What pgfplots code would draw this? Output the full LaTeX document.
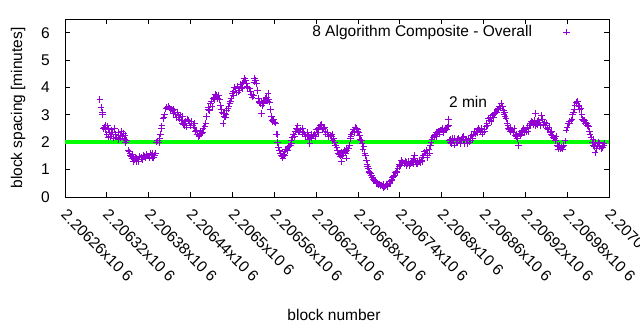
\documentclass[border=0pt]{standalone}
\usepackage{fontspec}
\setmainfont{Liberation Sans}
\usepackage{pgfplots}
\usepackage{pgfplotstable}
\pgfplotsset{compat=1.18}
\definecolor{gpviolet}{HTML}{9400D3}
\definecolor{gpgreen}{HTML}{00FF00}
% x = block number - 2206000
\pgfplotstableread{
x y
310.1 3.55
311.6 3.26
313.4 3.08
313.4 3.00
315.5 2.50
316 2.55
317.3 2.62
318 2.45
320 2.30
321 2.60
322.0 2.19
323 2.50
324.4 2.37
325 2.20
326 2.45
327 2.30
328.7 2.37
330 2.15
331 2.50
333 2.30
334.0 2.19
336 2.35
337 2.10
338.8 2.25
340 2.15
341 2.40
342 2.20
343.5 2.31
345 2.10
346 2.25
347 2.00
348.4 2.07
350.6 1.71
352 1.65
353.1 1.59
354 1.50
355.5 1.47
356 1.40
357 1.55
358 1.30
360.2 1.35
361 1.45
362 1.28
363 1.40
365.0 1.37
366 1.30
367 1.48
369.8 1.44
371 1.38
372 1.52
374.6 1.47
376 1.42
377 1.55
379.3 1.50
381 1.45
382 1.60
384.2 1.53
385 1.42
386 1.58
387 1.45
388.9 1.53
390 1.60
391.3 2.01
393 2.05
395 2.00
396.0 2.13
397 2.30
398.5 2.50
399 2.60
400.8 2.86
401.8 2.90
403 3.00
404.6 3.22
406 3.28
407.9 3.31
409 3.30
410 3.25
411 3.18
412.8 3.22
414 3.15
415 3.05
416 3.20
417.5 3.10
419 3.00
420 2.90
421 3.10
422.2 2.98
424 2.85
425 3.00
427.1 2.80
428 2.70
429 2.95
430 2.65
431.8 2.62
433 2.75
434 2.55
435 2.85
436.6 2.80
438 2.70
440 2.60
441 2.75
443.7 2.62
445 2.55
446 2.70
447 2.40
448.6 2.44
450 2.30
451.9 2.22
453 2.25
454 2.40
455.8 2.31
457 2.35
458 2.50
460.5 2.56
462 2.70
463 2.95
465.2 3.28
466 3.20
467.6 3.16
469 3.40
470 3.50
471 3.30
472.4 3.59
474 3.65
475 3.55
476 3.75
477.2 3.71
479 3.60
480 3.70
482.0 3.55
483 3.35
484 3.20
485 3.10
486.7 3.04
486.7 2.68
488 2.95
489 3.05
490.1 2.92
491 3.00
492 3.15
493.8 3.22
495 3.30
496.3 3.41
497 3.50
498 3.60
499.6 3.77
501 3.85
502 3.70
503.4 4.01
505 3.95
506 3.80
507 4.05
508.2 3.83
510 3.90
511 4.10
513.0 4.01
514 3.95
515 4.15
516 4.20
517.8 4.32
519 4.25
520.2 4.13
521 4.05
522 4.00
524.9 3.95
526 3.85
527 3.75
528.2 3.65
530 3.70
531 4.20
532.1 4.32
533 4.25
534.5 4.13
536 3.90
537 3.60
538 3.50
539.2 3.47
540 3.40
541 3.50
541.7 3.04
542.5 3.35
544 3.45
545 3.40
546.4 3.53
548 3.60
549 3.65
550 3.50
551.1 3.77
552 3.55
553.6 3.47
555 3.20
556 2.95
557.4 2.80
558 2.75
559 2.85
560.7 2.74
562 2.70
563 2.30
564.0 2.29
565 2.00
566 1.80
567.9 1.71
569 1.60
570 1.50
571.7 1.47
572.5 1.42
573 1.55
574 1.65
575 1.50
576.5 1.73
578 1.75
579 1.70
580 1.80
581.2 1.85
583 1.90
584 2.05
585 1.95
586.1 2.19
588 2.30
589 2.20
590 2.40
591.8 2.50
593 2.45
594 2.60
595 2.40
596.5 2.37
598 2.45
600 2.30
601 2.50
602.2 2.37
604 2.30
605 2.20
607.0 2.25
608 2.35
609 2.20
610 2.10
611 1.96
611.8 2.19
613 2.30
614 2.15
616.6 2.25
618 2.30
619 2.20
620 2.45
621.3 2.37
623 2.50
624 2.35
625 2.55
626.2 2.62
628 2.65
629 2.45
630.9 2.50
632 2.55
633 2.40
634 2.30
635.6 2.37
637 2.35
638 2.20
640.5 2.25
642 2.20
643 2.30
644 2.05
645.2 2.13
647 2.00
648 1.90
649.9 1.81
651 1.70
652 1.60
653 1.55
654.8 1.49
656 1.55
656.2 1.28
657 1.65
658 1.50
659.5 1.61
661 1.70
662 1.60
663 1.75
664 1.42
664.3 1.71
666.7 1.77
668 1.90
669.6 2.13
670 2.20
671 2.30
672.8 2.37
674 2.45
675 2.35
676 2.55
677.7 2.50
679 2.45
680 2.40
681.0 2.37
682 2.25
683 2.10
684.8 2.07
686 1.95
687 1.75
688.6 1.83
690 1.60
691 1.50
692.0 1.35
693 1.20
694 1.10
695.3 1.04
696 0.95
697 0.90
698 0.85
699.2 0.80
700 0.72
701 0.70
702 0.65
703.9 0.59
705 0.58
706 0.55
707 0.50
708.7 0.50
710 0.45
711 0.48
712 0.42
713.5 0.44
715 0.40
716 0.45
717 0.35
718.2 0.37
720 0.40
721 0.45
722 0.38
723.0 0.44
725 0.50
726 0.55
727.8 0.62
729 0.65
730 0.70
731 0.75
732.6 0.80
734 0.88
735 0.95
736 0.90
737.3 1.04
739 1.10
740 1.20
741 1.15
742.2 1.35
743 1.30
744 1.25
746.9 1.23
748 1.30
749 1.15
750 1.25
751.6 1.20
753 1.30
754 1.15
755 1.22
756.5 1.28
758 1.30
759 1.20
760 1.40
761 1.53
761.2 1.35
763 1.28
764 1.20
765 1.30
766.0 1.23
768 1.35
769 1.25
770.8 1.35
772 1.30
773 1.45
774 1.50
775.5 1.65
777 1.60
778 1.70
779 1.45
780.3 1.53
782 1.75
783 1.60
784.1 1.89
785 2.00
786 2.10
787.4 2.19
789.8 2.25
791 2.30
792 2.20
793 2.35
794.6 2.37
796 2.40
797 2.30
798 2.45
799.4 2.44
801 2.50
802 2.40
803 2.35
804.2 2.44
806 2.50
807 2.45
808.9 2.56
809.5 2.84
810 2.60
811.3 2.07
812 2.00
813 2.10
814 1.95
816.1 2.13
817 2.05
818 2.15
819 1.90
820.9 2.01
822 2.10
823 2.00
824 2.15
825.6 2.07
827 1.95
828 2.10
830.4 2.19
831 2.05
832 2.20
833 1.95
835.2 2.07
836 2.10
837 1.95
838 2.15
840.0 2.01
841 2.05
842 2.15
843 2.25
844.7 2.13
846 2.30
847 2.40
848 2.30
849.6 2.37
851 2.45
852 2.35
853 2.50
854.3 2.44
856 2.40
857 2.50
858 2.30
859.0 2.37
861 2.45
862 2.40
863.9 2.56
865 2.70
866 2.60
867.6 2.86
869 2.80
870 2.90
871 2.75
872.5 2.98
874 3.00
875 2.90
876 3.05
877.2 3.07
879 3.10
880 3.20
881.9 3.22
883 3.30
884 3.25
885.4 3.41
887 3.30
888.6 3.16
889.5 3.00
890 3.10
891 2.95
892.5 2.86
894 2.70
895 2.60
896.2 2.50
897 2.45
898 2.55
899 2.40
901.1 2.44
903 2.35
904 2.50
905.8 2.25
907 2.20
908 2.30
909.1 2.13
910 1.89
911.6 2.31
913 2.25
914 2.40
915 2.30
916.3 2.44
918 2.50
919 2.35
920 2.45
921.1 2.37
923 2.55
924 2.40
925.9 2.62
927 2.70
928 2.60
929 2.75
930.6 2.74
932 2.65
933 2.80
934 2.60
934.5 3.05
935.5 2.68
937 2.75
938 2.65
939 2.80
940.2 2.74
942 2.60
943.5 2.98
945 2.85
946 2.65
947.4 2.74
949 2.60
950 2.70
951.2 2.50
953 2.45
954 2.55
956.0 2.37
957 2.30
958 2.40
959 2.25
960.7 2.19
962 2.15
963 2.05
964 2.20
965.5 1.89
967 1.85
968 1.75
969 1.90
970.3 1.77
972 1.80
973 1.75
974 1.85
975.0 1.89
977 2.05
978.4 2.44
980 2.55
981.7 2.68
983 2.75
984 2.70
985.6 2.80
987 2.85
988 3.00
989.3 3.10
990 3.20
991 3.35
992.7 3.47
994 3.40
995 3.50
996.0 3.35
997 3.30
998 3.20
999.9 3.22
1001 3.00
1002 2.85
1003.2 2.80
1004 2.75
1005 2.80
1006 2.70
1007.1 2.74
1008 2.70
1009 2.60
1010.4 2.56
1012 2.40
1013 2.30
1014.2 2.19
1016 2.00
1017 2.10
1018.0 1.89
1019 1.85
1019.9 1.61
1020 1.95
1021.4 1.77
1023 1.90
1024.7 2.01
1026 1.85
1027 1.95
1028.5 1.77
1030 1.90
1031 1.80
1032.3 1.89
1033 1.95
}\datatable
\begin{document}
\fontsize{15.5bp}{18bp}\selectfont
\begin{tikzpicture}
\useasboundingbox (-65bp,-133bp) rectangle (575bp,197bp);
\begin{axis}[
  at={(0,0)}, anchor=south west,
  scale only axis, width=544bp, height=178bp,
  xmin=260, xmax=1040, ymin=0, ymax=6.5,
  xtick={260,320,...,1040},
  xticklabels={2.20626x10 6,2.20632x10 6,2.20638x10 6,2.20644x10 6,2.2065x10 6,2.20656x10 6,2.20662x10 6,2.20668x10 6,2.20674x10 6,2.2068x10 6,2.20686x10 6,2.20692x10 6,2.20698x10 6,2.20704x10 6},
  ytick={0,1,2,3,4,5,6},
  /pgf/number format/assume math mode=true,
  tick align=inside,
  major tick length=5bp,
  axis line style={line width=1bp},
  every tick/.style={black, line width=0.8bp},
  xticklabel style={yshift=-15bp, xshift=-1bp, rotate=-45, anchor=west, inner sep=0pt},
  yticklabel style={inner sep=0pt, xshift=-15bp},
  every axis y label/.style={at={(axis description cs:-0.0864,0.5)}, rotate=90, anchor=center},
  every axis x label/.style={at={(axis description cs:0.4945,-0.663)}, anchor=center},
  ylabel={block spacing [minutes]},
  xlabel={block number},
  legend plot pos=right,
  legend cell align=right,
  legend image code/.code={\path (0bp,0bp) (40bp,0bp); \draw[#1] plot coordinates {(34bp,0bp)};},
  legend style={at={(axis description cs:0.934,0.927)}, anchor=east, draw=none, fill=none, inner sep=0pt, nodes={inner sep=0pt}, column sep=0pt},
]
\addplot [only marks, mark=+, mark size=3.3bp, gpviolet, line width=0.9bp] table [x=x, y=y] {\datatable};
\addlegendentry{8 Algorithm Composite - Overall}
\addplot [gpgreen, line width=4bp, forget plot] coordinates {(260,2) (1040,2)};
\node at (axis cs:838,3.49) {2 min};
\end{axis}
\end{tikzpicture}
\end{document}
